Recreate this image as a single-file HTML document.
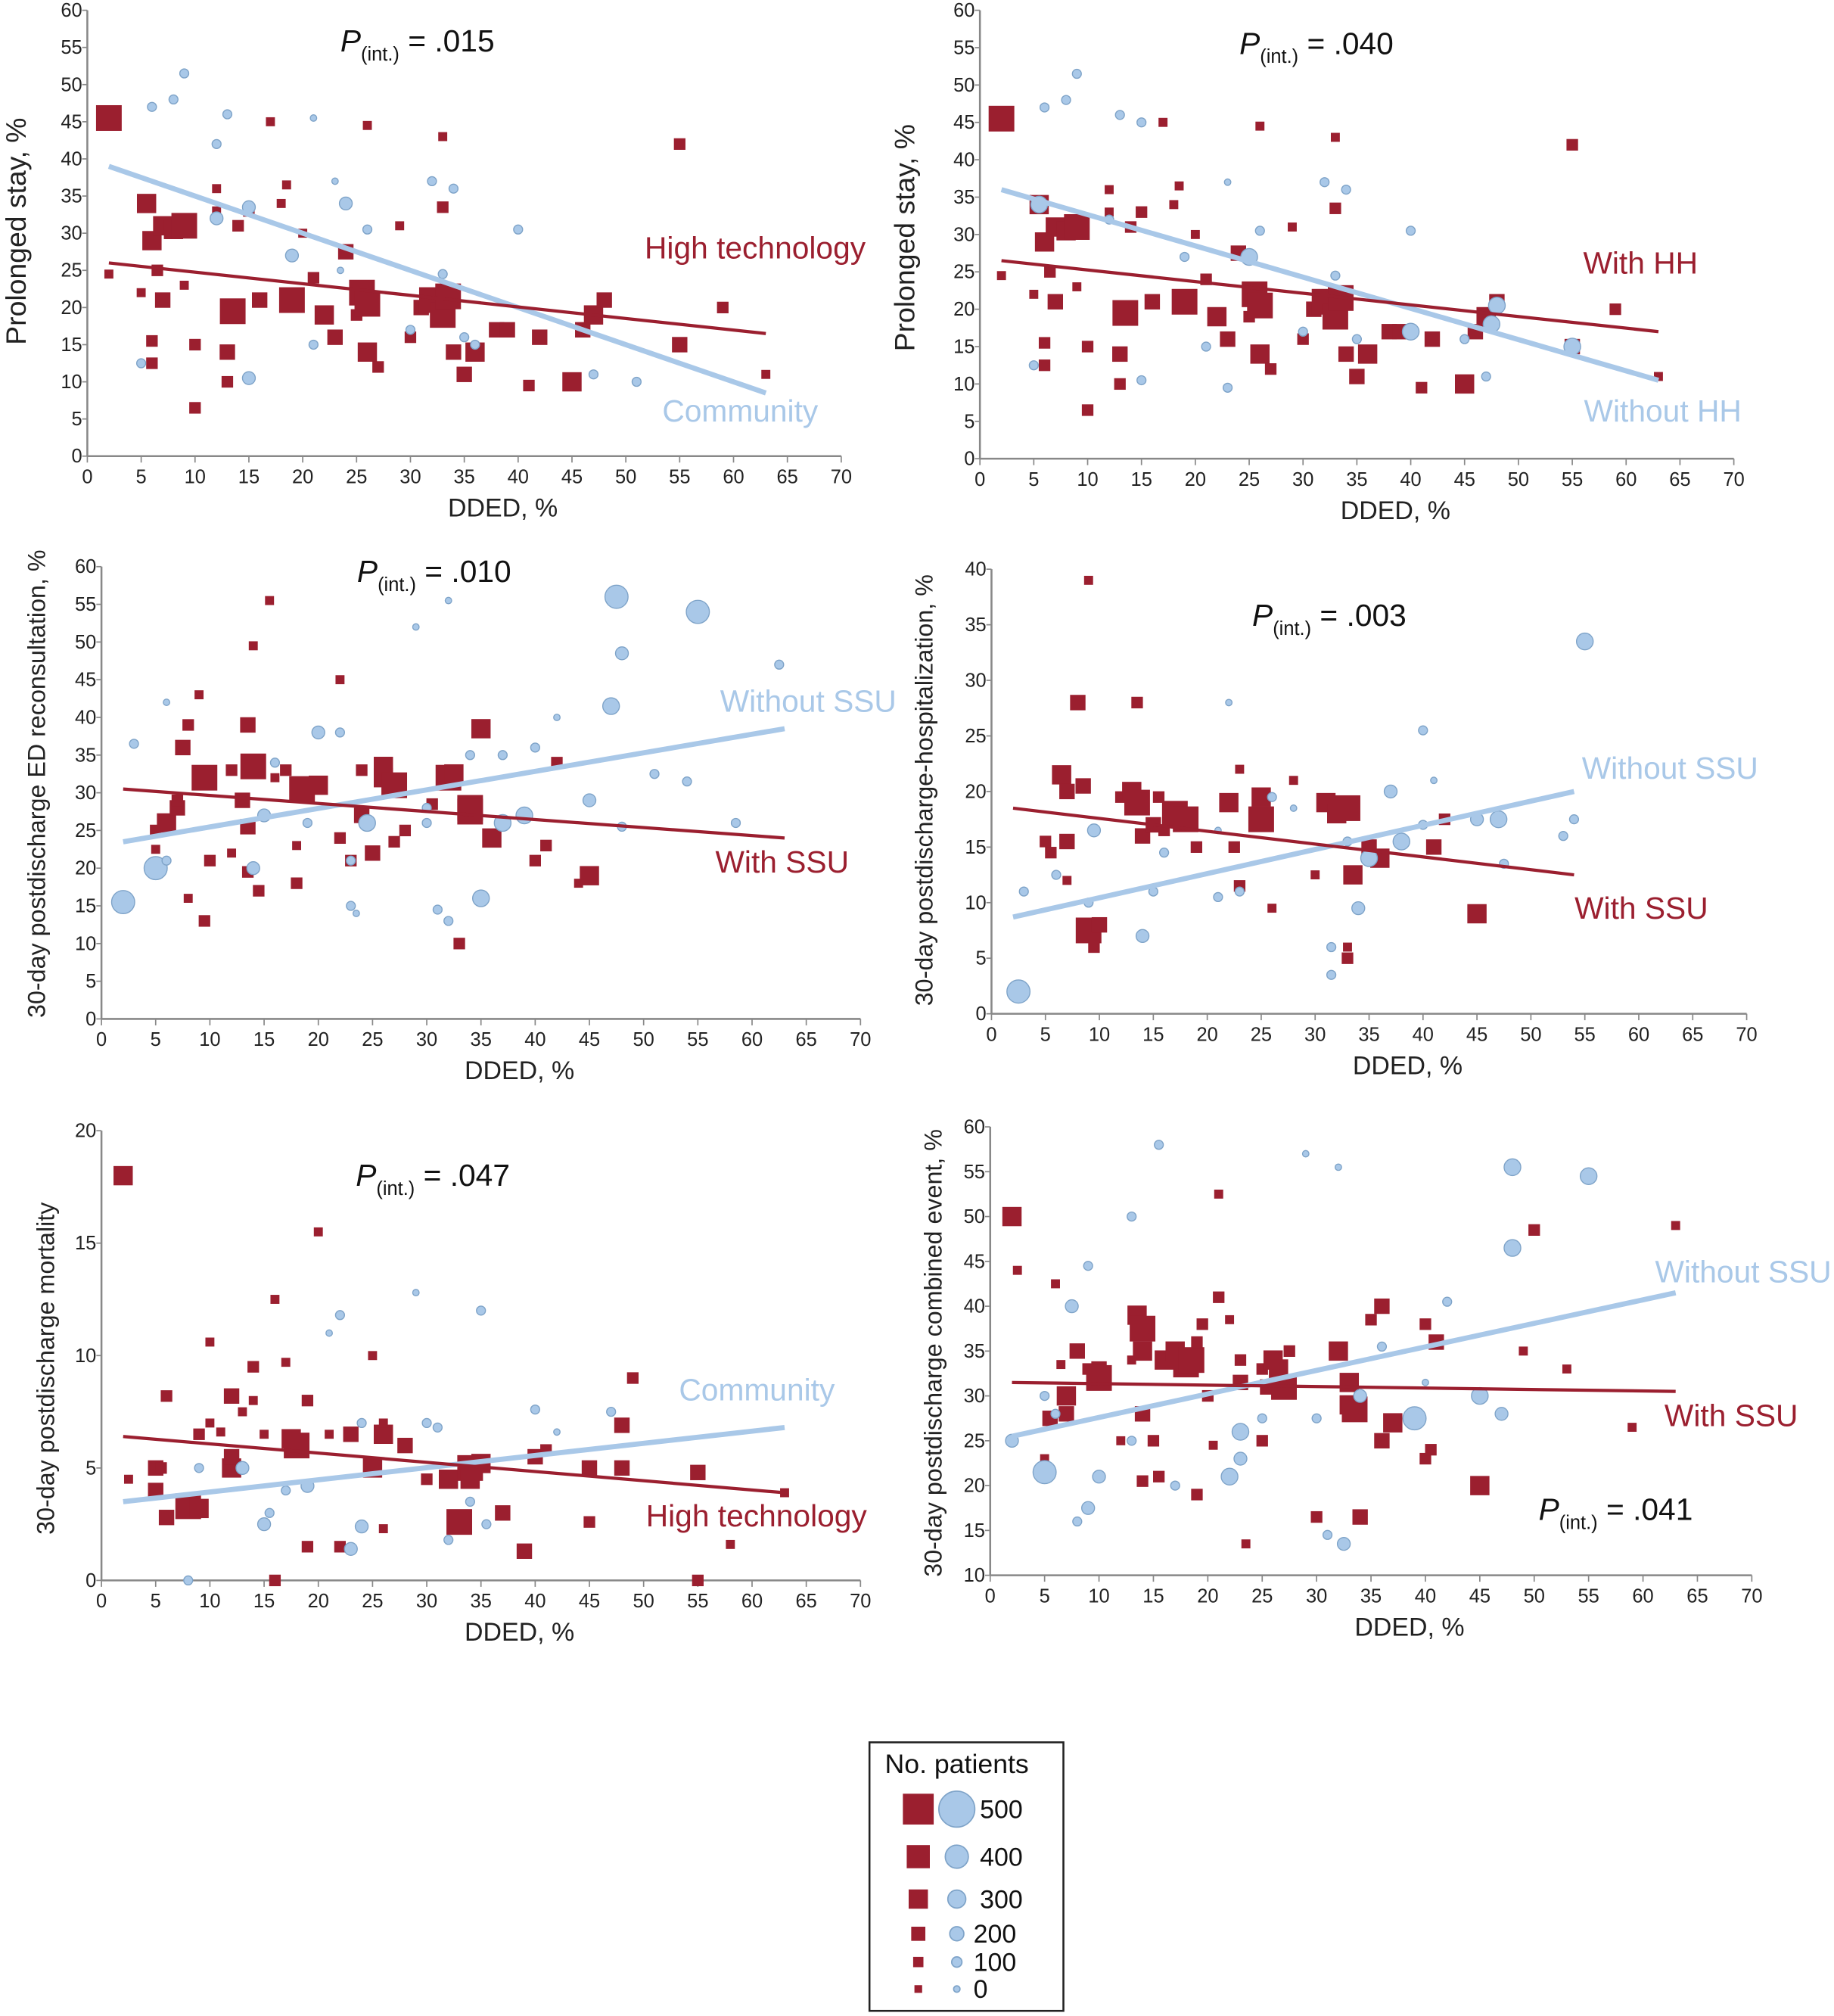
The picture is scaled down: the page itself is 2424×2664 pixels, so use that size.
<!DOCTYPE html>
<html><head><meta charset="utf-8">
<style>
html,body{margin:0;padding:0;background:#fff;}
svg{display:block;font-family:"Liberation Sans",sans-serif;}
</style></head>
<body>
<svg id="chart" width="2424" height="2664" viewBox="0 0 1428 1569" preserveAspectRatio="none" xmlns="http://www.w3.org/2000/svg">
<rect width="1428" height="1569" fill="#fff"/>
<g id="legend">
<rect x="677" y="1356" width="151" height="209" fill="none" stroke="#222" stroke-width="1.5"/>
<text x="689" y="1380" font-size="21" fill="#111">No. patients</text>
</g>
</svg>
<script>
// ---- data ----
const tickX = [0,5,10,15,20,25,30,35,40,45,50,55,60,65,70];
const p1Red = [[2,45.5,5],[5.5,34,4],[6,29,4],[7,31,4],[8,30.5,4],[9,31,5],[6.5,25,2],[7,21,3],[9,23,1],[10,15,2],[10,6.5,2],[12,33,1],[13,14,3],[13,10,2],[13.5,19.5,5],[14,31,2],[15,33,2],[16,21,3],[18,34,1],[19,21,5],[20,30,1],[21,24,2],[22,19,4],[23,16,3],[24,27.5,3],[25,19,2],[25.5,22,5],[26,20.5,5],[26,14,4],[27,12,2],[29,31,1],[30,16,2],[31,20,3],[32,21,5],[33,19,5],[33,33.5,2],[33.5,21.5,5],[34,14,3],[35,11,3],[36,14,4],[38,17,3],[39,17,3],[41,9.5,2],[42,16,3],[45,10,4],[46,17,3],[47,19,4],[48,21,3],[55,15,3],[55,42,2],[59,20,2],[63,11,1],[2,24.5,1],[5,22,1],[6,12.5,2],[6,15.5,2],[17,45,1],[26,44.5,1],[33,43,1],[12,36,1],[18.5,36.5,1]];
const p1Blue = [[8,48,1],[9,51.5,1],[6,47,1],[13,46,1],[15,10.5,2],[12,32,2],[19,27,2],[21,15,1],[23,37,0],[23.5,25,0],[24,34,2],[26,30.5,1],[21,45.5,0],[5,12.5,1],[30,17,1],[33,24.5,1],[32,37,1],[34,36,1],[35,16,1],[36,15,1],[40,30.5,1],[47,11,1],[51,10,1],[15,33.5,2],[12,42,1]];
const p2Red = p1Red;
const p2Blue = [[8,48,1],[9,51.5,1],[6,47,1],[13,46,1],[15,10.5,1],[12,32,1],[19,27,1],[21,15,1],[23,37,0],[23,9.5,1],[5.5,34,3],[25,27,3],[26,30.5,1],[15,45,1],[5,12.5,1],[30,17,1],[33,24.5,1],[32,37,1],[34,36,1],[35,16,1],[40,17,3],[40,30.5,1],[47,11,1],[48,20.5,3],[47.5,18,3],[55,15,3],[45,16,1]];
const p3Red = [[5,22.5,1],[5,25,2],[6,26,4],[7,28,3],[7,29,2],[7.5,36,3],[8,39,2],[8,16,1],[9,43,1],[9.5,13,2],[9.5,32,5],[10,21,2],[12,22,1],[12,33,2],[13,29,3],[13.5,39,3],[14,33.5,5],[13.5,25.5,3],[13.5,19.5,2],[14,49.5,1],[14.5,17,2],[15.5,55.5,1],[16,32,1],[17,33,2],[18,23,1],[18,18,2],[18.5,30.5,5],[20,31,4],[22,45,1],[22,24,2],[23,21,2],[24,27,3],[24,33,2],[25,22,3],[26,32,4],[26,33.5,4],[27,31,5],[27,23.5,2],[28,25,2],[30.5,28.5,2],[32,32,5],[32.5,32.5,4],[33,10,2],[34,28,5],[34,27.5,5],[35,38.5,4],[36,24,4],[40,21,2],[41,23,2],[42,34,2],[44,18,1],[45,19,4]];
const p3Blue = [[2,15.5,4],[3,36.5,1],[5,20,4],[6,42,0],[6,21,1],[14,20,2],[15,27,2],[16,34,1],[19,26,1],[20,38,2],[22,38,1],[23,21,1],[23,15,1],[23.5,14,0],[24.5,26,3],[29,52,0],[30,28,1],[30,26,1],[31,14.5,1],[32,55.5,0],[32,13,1],[34,35,1],[35,16,3],[37,35,1],[37,26,3],[39,27,3],[40,36,1],[42,40,0],[45,29,2],[47,41.5,3],[47.5,56,4],[48,48.5,2],[48,25.5,1],[51,32.5,1],[55,54,4],[54,31.5,1],[58.5,26,1],[62.5,47,1]];
const p4Red = [[5,15.5,2],[5.5,14.5,2],[6.5,21.5,4],[7,15.5,3],[7,20,3],[7,12,1],[8,28,3],[8.5,20.5,3],[9,39,1],[9,7.5,5],[9.5,6,2],[10,8,3],[12,19.5,2],[13,20,4],[13.5,28,2],[13.5,19,5],[14,16,3],[15,17,3],[15.5,19.5,2],[16,16.5,2],[17,18,5],[18,17.5,5],[19,15,2],[22,19,4],[22.5,15,2],[23,22,1],[23,11.5,2],[25,19.5,4],[25,17.5,5],[26,9.5,1],[28,21,1],[30,12.5,1],[31,19,4],[32,18,4],[33,18.5,5],[33,6,1],[33,5,2],[33.5,12.5,4],[35,15,3],[36,14,4],[41,15,3],[42,17.5,2],[45,9,4]];
const p4Blue = [[2.5,2,4],[3,11,1],[6,12.5,1],[9,10,1],[9.5,16.5,2],[14,7,2],[15,11,1],[16,14.5,1],[21,10.5,1],[21,16.5,0],[22,28,0],[23,11,1],[26,19.5,1],[28,18.5,0],[31.5,3.5,1],[31.5,6,1],[33,15.5,1],[34,9.5,2],[35,14,3],[37,20,2],[38,15.5,3],[40,25.5,1],[40,17,1],[41,21,0],[45,17.5,2],[47,17.5,3],[47.5,13.5,1],[53,16,1],[54,17.5,1],[55,33.5,3]];
const p5Red = [[2,18,4],[2.5,4.5,1],[5,5,3],[5,4,3],[5.5,5,2],[6,8.2,2],[6,2.8,3],[8,3.3,5],[9,3.2,4],[9,6.5,2],[10,10.6,1],[10,7,1],[11,6.6,1],[12,5,4],[12,8.2,3],[12,5.5,3],[13,7.5,1],[14,8,1],[14,9.5,2],[15,6.5,1],[16,12.5,1],[16,0,2],[17,9.7,1],[17.5,6.3,4],[18,6,5],[19,8,2],[19,1.5,2],[20,15.5,1],[21,6.5,1],[22,1.5,2],[23,6.5,3],[25,10,1],[25,5,4],[26,6.5,4],[26,7,1],[26,2.3,1],[28,6,3],[30,4.5,2],[32,4.5,4],[33,2.6,5],[34,5,5],[35,5.2,4],[34,4.5,4],[37,3,3],[39,1.3,3],[40,5.5,3],[41,5.8,2],[45,5,3],[45,2.6,2],[48,5,3],[48,6.9,3],[49,9,2],[55,4.8,3],[55,0,2],[58,1.6,1],[63,3.9,1]];
const p5Blue = [[8,0,1],[9,5,1],[13,5,2],[15,2.5,2],[15.5,3,1],[17,4,1],[19,4.2,2],[21,11,0],[22,11.8,1],[23,1.4,2],[24,2.4,2],[24,7,1],[29,12.8,0],[30,7,1],[31,6.8,1],[32,1.8,1],[34,3.5,1],[35,12,1],[35.5,2.5,1],[40,7.6,1],[42,6.6,0],[47,7.5,1]];
const p6Red = [[2,50,4],[2.5,44,1],[5,23,1],[5.5,27.5,3],[6,42.5,1],[6.5,33.5,1],[7,30,4],[7,28,3],[8,35,3],[9,33,2],[10,33,3],[10,32,5],[12,25,1],[13,34,1],[13.5,39,4],[14,37.5,5],[14,35,4],[14,28,3],[14,20.5,2],[15,25,2],[15.5,21,2],[16,34,4],[17,35,4],[18,33.5,5],[18.5,34,5],[19,19,2],[19,36,2],[19.5,38,2],[20,30,2],[20.5,24.5,1],[21,52.5,1],[21,41,2],[22,38.5,1],[23,31.5,3],[23,34,2],[23.5,13.5,1],[25,33,2],[25,25,2],[25.5,31,3],[26,34,4],[26.5,33,4],[27,31,5],[27.5,35,2],[30,16.5,2],[32,35,4],[33,31.5,4],[33,29,4],[33.5,28.5,5],[34,16.5,3],[35,38.5,2],[36,40,3],[36,25,3],[37,27,4],[40,38,2],[40,23,2],[40.5,24,2],[41,36,3],[45,20,4],[50,48.5,2],[49,35,1],[53,33,1],[59,26.5,1],[63,49,1]];
const p6Blue = [[2,25,2],[5,21.5,4],[5,30,1],[6,28,1],[7.5,40,2],[8,16,1],[9,17.5,2],[9,44.5,1],[10,21,2],[13,50,1],[13,25,1],[15.5,58,1],[17,20,1],[22,21,3],[23,26,3],[23,23,2],[25,27.5,1],[29,57,0],[30,27.5,1],[31,14.5,1],[32,55.5,0],[32.5,13.5,2],[34,30,2],[36,35.5,1],[39,27.5,4],[40,31.5,0],[42,40.5,1],[45,30,3],[47,28,2],[48,55.5,3],[48,46.5,3],[55,54.5,3]];
const lineRed1=[[2,26],[63,16.5]], lineBlue1=[[2,39],[63,8.5]];
const lineRed2=[[2,26.5],[63,17]], lineBlue2=[[2,36],[63,10.5]];
const lineRed3=[[2,30.5],[63,24]], lineBlue3=[[2,23.5],[63,38.5]];
const lineRed4=[[2,18.5],[54,12.5]], lineBlue4=[[2,8.7],[54,20]];
const lineRed5=[[2,6.4],[63,3.9]], lineBlue5=[[2,3.5],[63,6.8]];
const lineRed6=[[2,31.5],[63,30.5]], lineBlue6=[[2,25.5],[63,41.5]];
const legendCounts = [500,400,300,200,100,0];

const RED="#9b1f2f", BLUE="#a9c8e8", BLUEDK="#7ea3c8";
const sqSide=[5,7,9,12,15,20], cirR=[2.5,3.5,5,6.5,9,13];
const svg=document.getElementById('chart');
const NS="http://www.w3.org/2000/svg";
function mk(tag,attrs,parent){const e=document.createElementNS(NS,tag);for(const k in attrs)e.setAttribute(k,attrs[k]);(parent||svg).appendChild(e);return e;}

function panel(id,P,red,blue,lr,lb){
  const g=mk('g',{});
  
  
  const sx=v=>P.x0+(v/70)*(P.x1-P.x0);
  const sy=v=>P.y0-(v-P.ymin)/(P.ymax-P.ymin)*(P.y0-P.y1);
  const ax=mk('line',{x1:P.x0,y1:P.y0,x2:P.x1,y2:P.y0,stroke:'#888','stroke-width':1.5},g);
  
  
  const ay=mk('line',{x1:P.x0,y1:P.y0,x2:P.x0,y2:P.y1,stroke:'#888','stroke-width':1.5},g);
  
  
  tickX.forEach(t=>{
    mk('line',{x1:sx(t),y1:P.y0,x2:sx(t),y2:P.y0+5,stroke:'#888'},g);
    const tx=mk('text',{x:sx(t),y:P.y0+21,'font-size':15,'text-anchor':'middle',fill:'#222'},g);
    tx.textContent=t;
    
    
  });
  for(let t=P.ymin;t<=P.ymax;t+=P.ystep){
    mk('line',{x1:P.x0-4,y1:sy(t),x2:P.x0,y2:sy(t),stroke:'#888'},g);
    const ty=mk('text',{x:P.x0-4,y:sy(t)+5,'font-size':15,'text-anchor':'end',fill:'#222'},g);
    ty.textContent=t;
    
    
  }
  const xt=mk('text',{x:(P.x0+P.x1)/2+30,y:P.y0+47,'font-size':20,'text-anchor':'middle',fill:'#222'},g);
  xt.textContent='DDED, %';
  
  
  const yt=mk('text',{x:0,y:0,'font-size':P.yfs,'text-anchor':'middle',fill:'#222',transform:`translate(${P.ytx},${P.ytc}) rotate(-90)`},g);
  yt.textContent=P.ytitle;
  
  
  red.forEach(d=>{
    const s=sqSide[d[2]];
    const r=mk('rect',{x:sx(d[0])-s/2,y:sy(d[1])-s/2,width:s,height:s,fill:RED},g);
    
    
  });
  blue.forEach(d=>{
    const c=mk('circle',{cx:sx(d[0]),cy:sy(d[1]),r:cirR[d[2]],fill:BLUE,stroke:BLUEDK,'stroke-width':0.8},g);
    
    
  });
  const l1=mk('line',{x1:sx(lb[0][0]),y1:sy(lb[0][1]),x2:sx(lb[1][0]),y2:sy(lb[1][1]),stroke:BLUE,'stroke-width':4},g);
  
  
  const l2=mk('line',{x1:sx(lr[0][0]),y1:sy(lr[0][1]),x2:sx(lr[1][0]),y2:sy(lr[1][1]),stroke:RED,'stroke-width':2.5},g);
  
  
  const lr_=mk('text',{x:P.rlx,y:P.rly,'font-size':24,fill:RED,'text-anchor':'end'},g);
  lr_.textContent=P.rlabel;
  
  
  const lb_=mk('text',{x:P.blx,y:P.bly,'font-size':24,fill:BLUE,'text-anchor':'end'},g);
  lb_.textContent=P.blabel;
  
  
  const pt=mk('text',{x:P.px,y:P.py,'font-size':24,fill:'#111'},g);
  
  
  const a=mk('tspan',{'font-style':'italic'},pt);a.textContent='P';
  const b=mk('tspan',{'font-size':15,dy:7},pt);b.textContent='(int.)';
  const c=mk('tspan',{dy:-7},pt);c.textContent=' = '+P.pval;
}

panel('panel-prolonged-stay-community',{x0:68,x1:655,y0:355,y1:8,ymin:0,ymax:60,ystep:5,ytitle:'Prolonged stay, %',yfs:22,ytx:20,ytc:180,rlabel:'High technology',rlx:674,rly:201,blabel:'Community',blx:637,bly:328,px:265,py:40,pval:'.015'},p1Red,p1Blue,lineRed1,lineBlue1);
panel('panel-prolonged-stay-hh',{x0:763,x1:1350,y0:357,y1:8,ymin:0,ymax:60,ystep:5,ytitle:'Prolonged stay, %',yfs:22,ytx:712,ytc:185,rlabel:'With HH',rlx:1322,rly:213,blabel:'Without HH',blx:1356,bly:328,px:965,py:42,pval:'.040'},p2Red,p2Blue,lineRed2,lineBlue2);
panel('panel-ed-reconsultation',{x0:79,x1:670,y0:793,y1:441,ymin:0,ymax:60,ystep:5,ytitle:'30-day postdischarge ED reconsultation, %',yfs:19,ytx:35,ytc:610,rlabel:'With SSU',rlx:661,rly:679,blabel:'Without SSU',blx:698,bly:554,px:278,py:453,pval:'.010'},p3Red,p3Blue,lineRed3,lineBlue3);
panel('panel-hospitalization',{x0:772,x1:1360,y0:789,y1:443,ymin:0,ymax:40,ystep:5,ytitle:'30-day postdischarge-hospitalization, %',yfs:19,ytx:726,ytc:615,rlabel:'With SSU',rlx:1330,rly:715,blabel:'Without SSU',blx:1369,bly:606,px:975,py:487,pval:'.003'},p4Red,p4Blue,lineRed4,lineBlue4);
panel('panel-mortality',{x0:79,x1:670,y0:1230,y1:880,ymin:0,ymax:20,ystep:5,ytitle:'30-day postdischarge mortality',yfs:19,ytx:42,ytc:1065,rlabel:'High technology',rlx:675,rly:1188,blabel:'Community',blx:650,bly:1090,px:277,py:923,pval:'.047'},p5Red,p5Blue,lineRed5,lineBlue5);
panel('panel-combined-event',{x0:771,x1:1364,y0:1226,y1:877,ymin:10,ymax:60,ystep:5,ytitle:'30-day postdischarge combined event, %',yfs:19,ytx:733,ytc:1053,rlabel:'With SSU',rlx:1400,rly:1110,blabel:'Without SSU',blx:1426,bly:998,px:1198,py:1183,pval:'.041'},p6Red,p6Blue,lineRed6,lineBlue6);

const lg=document.getElementById('legend');
const lgY=[1408,1445,1478,1505,1527,1548];
const lgSq=[24,18,15,11,8,6], lgCr=[14,9,7,5.5,4,2.5];
legendCounts.forEach((n,i)=>{
  const s=lgSq[i];
  const r=mk('rect',{x:715-s/2,y:lgY[i]-s/2,width:s,height:s,fill:RED},lg);
  
  
  const c=mk('circle',{cx:745,cy:lgY[i],r:lgCr[i],fill:BLUE,stroke:BLUEDK,'stroke-width':1},lg);
  
  
  const t=mk('text',{x:i<3?763:758,y:lgY[i]+7,'font-size':20,fill:'#111'},lg);
  t.textContent=n;
  
  
});
</script>
</body></html>
